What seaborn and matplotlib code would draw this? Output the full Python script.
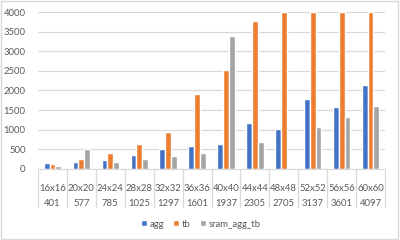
import pandas as pd
import matplotlib
matplotlib.use('Agg')
import matplotlib.pyplot as plt
import matplotlib.transforms as mtransforms
from matplotlib.patches import Rectangle
import seaborn as sns

# Chart data (tb is clipped at the 4000 axis top)
sizes = ['16x16', '20x20', '24x24', '28x28', '32x32', '36x36',
         '40x40', '44x44', '48x48', '52x52', '56x56', '60x60']
counts = ['401', '577', '785', '1025', '1297', '1601',
          '1937', '2305', '2705', '3137', '3601', '4097']
agg = [160, 187, 221, 365, 505, 586, 637, 1180, 1011, 1791, 1571, 2132]
tb = [136, 246, 399, 637, 934, 1911, 2522, 3770, 4000, 4000, 4000, 4000]
sram_agg_tb = [76, 501, 170, 255, 323, 415, 3389, 680, 0, 1062, 1333, 1605]

df = pd.DataFrame({'size': sizes, 'agg': agg, 'tb': tb, 'sram_agg_tb': sram_agg_tb})
long_df = df.melt(id_vars='size', var_name='series', value_name='value')

sns.set_style('white')
plt.rcParams['font.family'] = ['Lato', 'DejaVu Sans']
text_color = '#595959'
grid_color = '#D9D9D9'
fs = 6.8

fig = plt.figure(figsize=(4, 2.4), dpi=100)
ax = fig.add_axes([0.095, 0.296, 0.8675, 0.654])

sns.barplot(data=long_df, x='size', y='value', hue='series',
            palette=['#4472C4', '#ED7D31', '#A5A5A5'], saturation=1,
            width=0.6, ax=ax)

ax.set_ylim(0, 4000)
ax.set_xlim(-0.5, len(sizes) - 0.5)
ax.set_yticks(range(0, 4001, 500))
ax.yaxis.grid(True, color=grid_color, linewidth=0.9)
ax.set_axisbelow(True)
for s in ['top', 'right', 'left']:
    ax.spines[s].set_visible(False)
ax.spines['bottom'].set_color(grid_color)
ax.tick_params(axis='both', length=0, labelsize=fs, labelcolor=text_color)
ax.tick_params(axis='y', pad=9)
ax.tick_params(axis='x', pad=10.5)
ax.set_xlabel('')
ax.set_ylabel('')

# second row of category labels plus separators
trans = mtransforms.blended_transform_factory(ax.transData, ax.transAxes)
for i, c in enumerate(counts):
    ax.text(i, -0.222, c, transform=trans, ha='center', va='center',
            fontsize=fs, color=text_color)
for x in range(len(sizes) + 1):
    ax.plot([x - 0.5, x - 0.5], [0, -0.242], transform=trans, color=grid_color,
            linewidth=0.9, clip_on=False)

ax.legend(loc='center', bbox_to_anchor=(0.502, 0.066), bbox_transform=fig.transFigure,
          ncol=3, frameon=False, fontsize=fs, handlelength=0.6, handleheight=0.6,
          handletextpad=0.3, columnspacing=1.0, labelcolor=text_color)

fig.patches.append(Rectangle((0.002, 0.004), 0.994, 0.992, transform=fig.transFigure,
                             fill=False, edgecolor=grid_color, linewidth=1))

fig.savefig('out.png', dpi=100)
